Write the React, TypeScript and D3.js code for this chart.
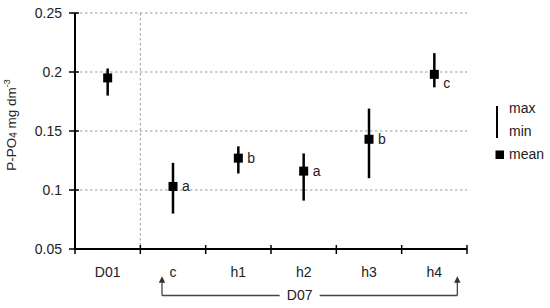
import * as d3 from "d3";

const categories = ["D01", "c", "h1", "h2", "h3", "h4"];
const means = [0.195, 0.103, 0.127, 0.116, 0.143, 0.198];
const maxs = [0.203, 0.123, 0.137, 0.131, 0.169, 0.216];
const mins = [0.18, 0.08, 0.114, 0.091, 0.11, 0.187];
const letters = ["", "a", "b", "a", "b", "c"];
const yTicks = [0.05, 0.1, 0.15, 0.2, 0.25];

const W = 550;
const H = 308;
const left = 75;
const right = 467;
const top = 13;
const bottom = 249;
const font = "Liberation Sans, Arial, sans-serif";

export default function App() {
  const x = d3.scaleBand().domain(categories).range([left, right]).padding(0);
  const y = d3.scaleLinear().domain([0.05, 0.25]).range([bottom, top]);
  const bw = x.bandwidth();
  const cx = (c: string) => (x(c) as number) + bw / 2;
  const bounds = categories.map((c) => x(c) as number).concat([right]);

  const bracketL = cx("c") - 11;
  const bracketR = cx("h4") + 23;
  const bracketY = 295.5;
  const labelX = (cx("c") + cx("h4")) / 2 - 4;

  return (
    <svg
      width={W}
      height={H}
      style={{ position: "absolute", left: 0, top: 0, background: "#fff" }}
      fontFamily={font}
    >
      {/* grid */}
      {yTicks
        .filter((t) => t > 0.05)
        .map((t) => (
          <line
            key={t}
            x1={left}
            x2={right}
            y1={y(t)}
            y2={y(t)}
            stroke="#999"
            strokeWidth={1}
            strokeDasharray="2.5,2.5"
          />
        ))}
      <line
        x1={x("c") as number}
        x2={x("c") as number}
        y1={top}
        y2={bottom}
        stroke="#999"
        strokeWidth={1}
        strokeDasharray="2.5,2.5"
      />

      {/* axes */}
      <line x1={left} x2={left} y1={top} y2={bottom} stroke="#000" strokeWidth={2} />
      <line x1={left} x2={right} y1={bottom} y2={bottom} stroke="#000" strokeWidth={2} />
      {yTicks.map((t) => (
        <g key={t}>
          <line x1={left - 6} x2={left + 4} y1={y(t)} y2={y(t)} stroke="#000" strokeWidth={1.5} />
          <text x={left - 13} y={y(t)} dy="0.35em" textAnchor="end" fontSize={14} fill="#222">
            {String(t)}
          </text>
        </g>
      ))}
      {bounds.map((b, i) => (
        <line key={i} x1={b} x2={b} y1={bottom - 4} y2={bottom + 5} stroke="#000" strokeWidth={1.5} />
      ))}
      {categories.map((c) => (
        <text key={c} x={cx(c)} y={277} textAnchor="middle" fontSize={14} fill="#222">
          {c}
        </text>
      ))}

      {/* y label */}
      <text
        transform={`translate(16, 125) rotate(-90)`}
        textAnchor="middle"
        fontSize={13.5}
        fill="#222"
      >
        P-PO<tspan fontSize={10} dy={1}>4</tspan>
        <tspan dy={-1}> mg dm</tspan>
        <tspan fontSize={9} dy={-6}>-3</tspan>
      </text>

      {/* data */}
      {categories.map((c, i) => (
        <g key={c}>
          <line x1={cx(c)} x2={cx(c)} y1={y(maxs[i])} y2={y(mins[i])} stroke="#000" strokeWidth={2.5} />
          <rect x={cx(c) - 4.5} y={y(means[i]) - 4.5} width={9} height={9} fill="#000" />
          {letters[i] && (
            <text
              x={cx(c) + 9}
              y={y(means[i]) + (i === 5 ? 14 : 5)}
              fontSize={14}
              fill="#222"
            >
              {letters[i]}
            </text>
          )}
        </g>
      ))}

      {/* D07 bracket */}
      <defs>
        <marker id="arr" viewBox="0 0 6 6" refX={3} refY={3} markerWidth={5} markerHeight={5} orient="auto">
          <path d="M0,0 L6,3 L0,6 z" fill="#333" />
        </marker>
      </defs>
      <path
        d={`M${bracketL},${bracketY} L${bracketL},${bracketY - 16}`}
        stroke="#444"
        strokeWidth={1.3}
        fill="none"
        markerEnd="url(#arr)"
      />
      <path
        d={`M${bracketR},${bracketY} L${bracketR},${bracketY - 16}`}
        stroke="#444"
        strokeWidth={1.3}
        fill="none"
        markerEnd="url(#arr)"
      />
      <line x1={bracketL} x2={labelX - 20} y1={bracketY} y2={bracketY} stroke="#444" strokeWidth={1.3} />
      <line x1={labelX + 20} x2={bracketR} y1={bracketY} y2={bracketY} stroke="#444" strokeWidth={1.3} />
      <text x={labelX} y={bracketY} dy="0.35em" textAnchor="middle" fontSize={14} fill="#222">
        D07
      </text>

      {/* legend */}
      <line x1={497} x2={497} y1={106} y2={138} stroke="#000" strokeWidth={2} />
      <text x={509} y={113} fontSize={14} fill="#222">max</text>
      <text x={509} y={136} fontSize={14} fill="#222">min</text>
      <rect x={495.5} y={150.5} width={8.5} height={8.5} fill="#000" />
      <text x={509} y={159} fontSize={14} fill="#222">mean</text>
    </svg>
  );
}
